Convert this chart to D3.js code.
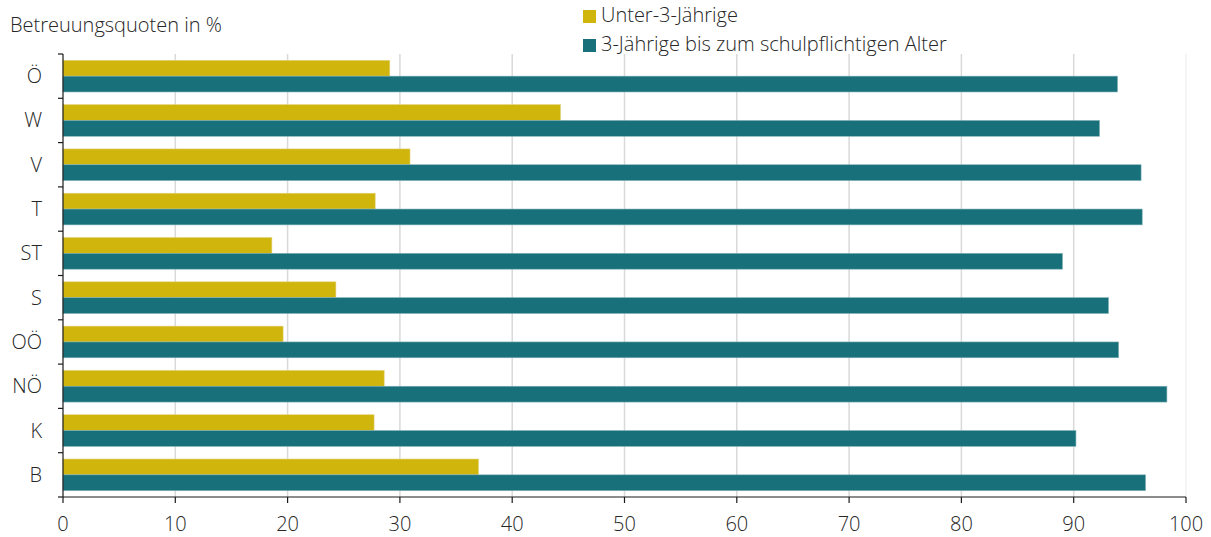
<!DOCTYPE html>
<html><head><meta charset="utf-8">
<script src="https://cdn.jsdelivr.net/npm/d3@7"></script>
<style>body{margin:0;background:#fff}svg text{font-family:"Open Sans",sans-serif;font-weight:300;fill:#262626}</style>
</head><body><svg id="c" width="1211" height="537"></svg>
<script>
const categories = ["Ö","W","V","T","ST","S","OÖ","NÖ","K","B"];
const seriesNames = ["Unter-3-Jährige","3-Jährige bis zum schulpflichtigen Alter"];
const under3 = [29.1,44.3,30.9,27.8,18.6,24.3,19.6,28.6,27.7,37.0];
const age3toSchool = [93.9,92.3,96.0,96.1,89.0,93.1,94.0,98.3,90.2,96.4];
const xTicks = [0,10,20,30,40,50,60,70,80,90,100];
const colors = ["#CFB50C","#17707A"];
const yTitle = "Betreuungsquoten in %";

const svg = d3.select("#c");
const m = {l:63, r:25, t:54, b:40};
const W = 1211, H = 537;
const FS = 20;
const x = d3.scaleLinear().domain([0,100]).range([m.l, W-m.r]);
const y = d3.scaleBand().domain(categories).range([m.t, H-m.b]).paddingInner(0).paddingOuter(0);
const sub = d3.scaleBand().domain([0,1]).range([0, y.bandwidth()]).paddingInner(0).paddingOuter(0.4);

// gridlines
svg.append("g").selectAll("line").data(xTicks.filter(d=>d>0)).join("line")
  .attr("x1",d=>x(d)).attr("x2",d=>x(d)).attr("y1",m.t).attr("y2",H-m.b)
  .attr("stroke",d=>d===100?"#f2f2f2":"#d9d9d9").attr("stroke-width",1.5);

const series = [under3, age3toSchool];
series.forEach((vals,si)=>{
  svg.append("g").selectAll("rect").data(categories).join("rect")
    .attr("x",x(0)).attr("y",(c)=>y(c)+sub(si))
    .attr("width",(c,i)=>x(vals[i])-x(0)).attr("height",sub.bandwidth())
    .attr("fill",colors[si]).attr("stroke",si===0?"#e3d27a":"#7fb0b5").attr("stroke-width",0.6);
});

// y axis
const ya = svg.append("g").attr("transform",`translate(${m.l},0)`);
ya.append("line").attr("x1",0).attr("x2",0).attr("y1",m.t).attr("y2",H-m.b).attr("stroke","#1a1a1a").attr("stroke-width",1.2);
const bounds = categories.map(c=>y(c)).concat([y(categories[categories.length-1])+y.bandwidth()]);
ya.selectAll("line.t").data(bounds).join("line").attr("class","t")
  .attr("x1",-5).attr("x2",0).attr("y1",d=>d).attr("y2",d=>d).attr("stroke","#1a1a1a").attr("stroke-width",1.2);
ya.selectAll("text").data(categories).join("text")
  .attr("x",-21).attr("y",c=>y(c)+y.bandwidth()/2).attr("dy","0.35em")
  .attr("text-anchor","end").attr("font-size",FS).text(d=>d);

// x axis
const xa = svg.append("g").attr("transform",`translate(0,${H-m.b})`);
xa.append("line").attr("x1",x(0)).attr("x2",x(100)).attr("stroke","#1a1a1a").attr("stroke-width",1.2);
xa.selectAll("line.t").data(xTicks).join("line").attr("class","t")
  .attr("x1",d=>x(d)).attr("x2",d=>x(d)).attr("y1",0).attr("y2",6).attr("stroke","#1a1a1a").attr("stroke-width",1.2);
xa.selectAll("text").data(xTicks).join("text")
  .attr("x",d=>x(d)).attr("y",34).attr("text-anchor","middle").attr("font-size",FS).text(d=>d);

// title
svg.append("text").attr("x",10).attr("y",32).attr("font-size",FS).text(yTitle);

// legend
const lg = svg.append("g");
seriesNames.forEach((n,i)=>{
  lg.append("rect").attr("x",583).attr("y",10+i*29).attr("width",13).attr("height",13).attr("fill",colors[i]);
  lg.append("text").attr("x",601).attr("y",22+i*28.5).attr("font-size",FS).text(n);
});
</script></body></html>
